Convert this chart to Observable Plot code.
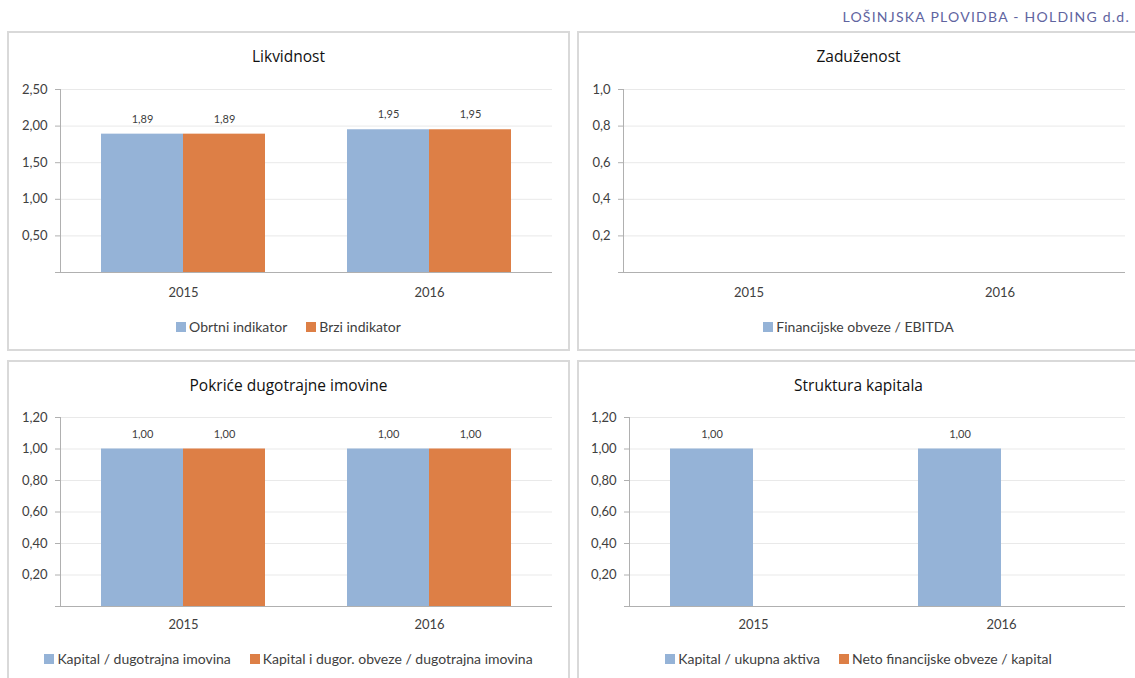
<!DOCTYPE html>
<html>
<head>
<meta charset="utf-8">
<script src="https://cdn.jsdelivr.net/npm/d3@7"></script>
<script src="https://cdn.jsdelivr.net/npm/@observablehq/plot@0.6"></script>
<style>
  html, body { margin: 0; padding: 0; background: #fff; }
  body { width: 1135px; height: 678px; position: relative; overflow: hidden; font-family: Lato, "Open Sans", sans-serif; }
  .header { position: absolute; right: 5px; top: 8px; font-size: 14px; letter-spacing: 1.25px; color: #60649f; }
  .panel { position: absolute; box-sizing: border-box; border: 2px solid #d9d9d9; background: #fff; }
  .title { position: absolute; left: 0; right: 0; text-align: center; font-family: "Open Sans", sans-serif; font-size: 15.5px; font-weight: 400; color: #111; line-height: 20px; }
  .legend { position: absolute; left: 0; right: 0; display: flex; justify-content: center; gap: 19px; font-size: 14px; color: #404040; line-height: 16px; }
  .legend span.item { display: inline-flex; align-items: center; }
  .legend span.sw { width: 10px; height: 10px; margin-right: 3px; display: inline-block; }
  .chart { position: absolute; left: 0; top: 0; }
</style>
</head>
<body>
<div class="header">LOŠINJSKA PLOVIDBA - HOLDING d.d.</div>
<div id="p1" class="panel" style="left:7px;top:31px;width:563px;height:320px;"></div>
<div id="p2" class="panel" style="left:577px;top:31px;width:563px;height:320px;"></div>
<div id="p3" class="panel" style="left:7px;top:360px;width:563px;height:330px;"></div>
<div id="p4" class="panel" style="left:577px;top:360px;width:563px;height:330px;"></div>
<script>
// ---- data ----
const years = ["2015", "2016"];
const colors = ["#95b3d7", "#dd7f46"];

const likvTitle = "Likvidnost";
const likvSeries = ["Obrtni indikator", "Brzi indikator"];
const likvObrtni = [1.89, 1.95];
const likvBrzi = [1.89, 1.95];
const likvTicks = [0, 0.5, 1.0, 1.5, 2.0, 2.5];

const zadTitle = "Zaduženost";
const zadSeries = ["Financijske obveze / EBITDA"];
const zadFinObveze = [null, null];
const zadTicks = [0, 0.2, 0.4, 0.6, 0.8, 1.0];

const pokTitle = "Pokriće dugotrajne imovine";
const pokSeries = ["Kapital / dugotrajna imovina", "Kapital i dugor. obveze / dugotrajna imovina"];
const pokKapital = [1.00, 1.00];
const pokKapitalDugor = [1.00, 1.00];
const pokTicks = [0, 0.2, 0.4, 0.6, 0.8, 1.0, 1.2];

const strTitle = "Struktura kapitala";
const strSeries = ["Kapital / ukupna aktiva", "Neto financijske obveze / kapital"];
const strKapital = [1.00, 1.00];
const strNeto = [null, null];
const strTicks = [0, 0.2, 0.4, 0.6, 0.8, 1.0, 1.2];

// ---- drawing ----
const FONT = "Lato, 'Open Sans', sans-serif";
const AXIS = "#b0b0b0";
const GRID = "#e9e9e9";

function panel(id, cfg) {
  const el = document.getElementById(id);
  const data = [];
  years.forEach((yr, i) => cfg.series.forEach((s, j) => data.push({year: yr, series: s, value: cfg.values[j][i]})));
  const fmt = v => v.toFixed(cfg.decimals).replace(".", ",");
  const chart = Plot.plot({
    width: 559, height: cfg.height,
    marginLeft: cfg.ml, marginRight: cfg.mr, marginTop: cfg.mt, marginBottom: cfg.mb,
    style: {fontFamily: FONT, fontSize: "13px", color: "#404040", background: "transparent", overflow: "visible"},
    fx: {domain: years, paddingInner: 0, paddingOuter: 0, label: null, axis: null},
    x: {domain: cfg.series, paddingInner: 0, paddingOuter: 0.49, axis: null},
    y: {domain: [0, cfg.ticks[cfg.ticks.length - 1]], axis: null},
    color: {domain: cfg.series, range: colors},
    marks: [
      Plot.ruleY(cfg.ticks.slice(1), {stroke: GRID, strokeWidth: 1}),
      Plot.barY(data, {fx: "year", x: "series", y: "value", fill: "series"}),
      Plot.ruleY([0], {stroke: AXIS}),
      Plot.axisY({ticks: cfg.ticks, tickFormat: v => v === 0 ? "" : fmt(v), tickSize: 5, tickPadding: 8,
                  stroke: AXIS, fill: "#404040", label: null, fontSize: 13}),
      Plot.frame({anchor: "left", facetAnchor: "left", stroke: AXIS}),
      Plot.axisFx({anchor: "bottom", tickSize: 0, tickPadding: cfg.yearPad, label: null, fontSize: 13, fill: "#404040"}),
      Plot.text(data.filter(d => d.value != null), {fx: "year", x: "series", y: "value",
                text: d => fmt(d.value), dy: -15, fontSize: 11, fill: "#404040"})
    ]
  });
  chart.classList.add("chart");
  el.appendChild(chart);

  const t = document.createElement("div");
  t.className = "title";
  t.style.top = (cfg.titleY - 10) + "px";
  t.textContent = cfg.title;
  el.appendChild(t);

  const lg = document.createElement("div");
  lg.className = "legend";
  lg.style.top = (cfg.legendY - 8) + "px";
  cfg.series.forEach((s, j) => {
    const it = document.createElement("span");
    it.className = "item";
    const sw = document.createElement("span");
    sw.className = "sw";
    sw.style.background = colors[j];
    it.appendChild(sw);
    it.appendChild(document.createTextNode(s));
    lg.appendChild(it);
  });
  el.appendChild(lg);
}

panel("p1", {title: likvTitle, series: likvSeries, values: [likvObrtni, likvBrzi], ticks: likvTicks, decimals: 2,
  height: 280, ml: 51, mr: 16, mt: 56, mb: 41, yearPad: 15, titleY: 23, legendY: 294});
panel("p2", {title: zadTitle, series: zadSeries, values: [zadFinObveze], ticks: zadTicks, decimals: 1,
  height: 280, ml: 44, mr: 13, mt: 56, mb: 41, yearPad: 15, titleY: 23, legendY: 294});
panel("p3", {title: pokTitle, series: pokSeries, values: [pokKapital, pokKapitalDugor], ticks: pokTicks, decimals: 2,
  height: 285, ml: 51, mr: 16, mt: 55, mb: 41, yearPad: 13, titleY: 23, legendY: 297});
panel("p4", {title: strTitle, series: strSeries, values: [strKapital, strNeto], ticks: strTicks, decimals: 2,
  height: 285, ml: 49, mr: 13, mt: 55, mb: 41, yearPad: 13, titleY: 23, legendY: 297});
</script>
</body>
</html>
